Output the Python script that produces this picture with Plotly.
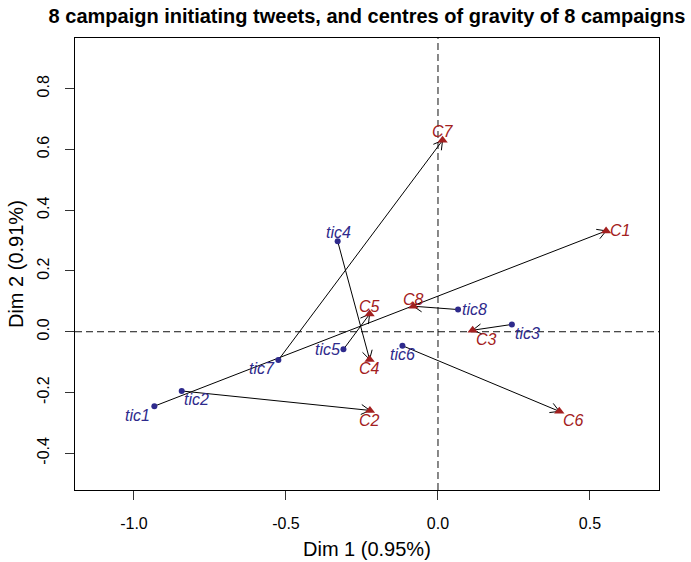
import math
import plotly.graph_objects as go

# Initiating tweets (tic) and campaign centres of gravity (C) on the first two dimensions
tic_labels = ["tic1", "tic2", "tic3", "tic4", "tic5", "tic6", "tic7", "tic8"]
tic_x = [-0.933, -0.843, 0.243, -0.330, -0.311, -0.117, -0.525, 0.066]
tic_y = [-0.245, -0.195, 0.024, 0.298, -0.058, -0.046, -0.093, 0.073]

c_labels = ["C1", "C2", "C3", "C4", "C5", "C6", "C7", "C8"]
c_x = [0.553, -0.224, 0.114, -0.225, -0.225, 0.399, 0.015, -0.081]
c_y = [0.332, -0.259, 0.005, -0.091, 0.058, -0.262, 0.630, 0.084]

x_ticks = [-1.0, -0.5, 0.0, 0.5]
y_ticks = [-0.4, -0.2, 0.0, 0.2, 0.4, 0.6, 0.8]

# label offsets (pixels) relative to each point
tic_off = [(-17, -9), (15, -9), (16, -9), (1, 9), (-16, 0), (0, -9), (-16, -9), (16, 0)]
c_off = [(14, 0), (0, -10), (14, -9), (0, -9), (0, 8), (14, -9), (0, 9), (0, 7)]

TIC_COL = "#2E2A8C"
C_COL = "#A32020"
FONT = "Liberation Sans, Arial, sans-serif"

X_RANGE = [-1.194, 0.727]
Y_RANGE = [-0.521, 0.967]

fig = go.Figure()

# reference lines through the origin
fig.add_trace(go.Scatter(x=[0, 0], y=Y_RANGE, mode="lines",
                         line=dict(color="#111111", width=1, dash="7px,4px"),
                         hoverinfo="skip", showlegend=False))
fig.add_trace(go.Scatter(x=X_RANGE, y=[0, 0], mode="lines",
                         line=dict(color="#111111", width=1, dash="7px,4px"),
                         hoverinfo="skip", showlegend=False))

# arrows from each initiating tweet to its campaign centre (open arrowheads)
head_len = 10 / 304.0
half_angle = math.radians(30)
ax_, ay_ = [], []
for x0, y0, x1, y1 in zip(tic_x, tic_y, c_x, c_y):
    ang = math.atan2(y1 - y0, x1 - x0)
    ax_ += [x0, x1, None]
    ay_ += [y0, y1, None]
    for s in (1, -1):
        a = ang + s * half_angle
        ax_ += [x1 - head_len * math.cos(a), x1, None]
        ay_ += [y1 - head_len * math.sin(a), y1, None]
fig.add_trace(go.Scatter(x=ax_, y=ay_, mode="lines",
                         line=dict(color="black", width=1),
                         hoverinfo="skip", showlegend=False))

fig.add_trace(go.Scatter(x=tic_x, y=tic_y, mode="markers",
                         marker=dict(symbol="circle", size=6, color=TIC_COL),
                         showlegend=False))
fig.add_trace(go.Scatter(x=c_x, y=c_y, mode="markers",
                         marker=dict(symbol="triangle-up", size=9, color=C_COL),
                         showlegend=False))

for lab, x, y, (dx, dy) in zip(tic_labels, tic_x, tic_y, tic_off):
    fig.add_annotation(x=x, y=y, text=f"<i>{lab}</i>", showarrow=False,
                       xshift=dx, yshift=dy,
                       font=dict(family=FONT, size=16, color=TIC_COL))
for lab, x, y, (dx, dy) in zip(c_labels, c_x, c_y, c_off):
    fig.add_annotation(x=x, y=y, text=f"<i>{lab}</i>", showarrow=False,
                       xshift=dx, yshift=dy,
                       font=dict(family=FONT, size=16, color=C_COL))

# axis titles
fig.add_annotation(x=0.5, y=-0.130, xref="paper", yref="paper",
                   xanchor="center", yanchor="middle",
                   text="Dim 1 (0.95%)", showarrow=False,
                   font=dict(family=FONT, size=20, color="black"))
fig.add_annotation(x=-0.101, y=0.5, xref="paper", yref="paper", textangle=-90,
                   xanchor="center", yanchor="middle",
                   text="Dim 2 (0.91%)", showarrow=False,
                   font=dict(family=FONT, size=20, color="black"))

fig.update_layout(
    width=691, height=562,
    margin=dict(l=75, r=32, t=37.5, b=72),
    paper_bgcolor="white", plot_bgcolor="white",
    title=dict(text="<b>8 campaign initiating tweets, and centres of gravity of 8 campaigns</b>",
               x=0.5, xref="paper", y=1 - 16 / 562, yanchor="middle",
               font=dict(family=FONT, size=20, color="black")),
    font=dict(family=FONT, color="black"),
)
fig.update_xaxes(range=X_RANGE, tickvals=x_ticks, ticktext=[f"{v:.1f}" for v in x_ticks],
                 showgrid=False, zeroline=False, showline=True, linecolor="black",
                 linewidth=1, mirror=True, ticks="outside", ticklen=9, tickcolor="#333",
                 tickfont=dict(family=FONT, size=16), ticklabelstandoff=10)
fig.update_yaxes(range=Y_RANGE, tickvals=y_ticks, ticktext=[f"{v:.1f}" for v in y_ticks],
                 showgrid=False, zeroline=False, showline=True, linecolor="black",
                 linewidth=1, mirror=True, ticks="outside", ticklen=9, tickcolor="#333",
                 tickangle=-90, tickfont=dict(family=FONT, size=16), ticklabelstandoff=10)

fig.write_html("out.html")
